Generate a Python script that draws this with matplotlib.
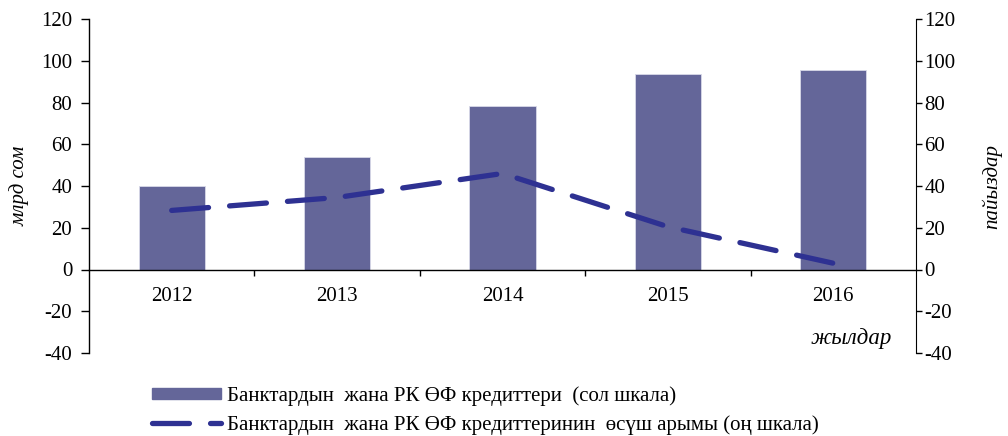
import matplotlib
matplotlib.use("Agg")
import matplotlib.pyplot as plt
from matplotlib.patches import Patch
from matplotlib.lines import Line2D

years = ["2012", "2013", "2014", "2015", "2016"]
credits = [40.2, 53.8, 78.4, 93.8, 95.8]
growth = [28.3, 34.5, 46.0, 20.5, 3.0]
yticks = [-40, -20, 0, 20, 40, 60, 80, 100, 120]

plt.rcParams['font.family'] = ['Liberation Serif', 'DejaVu Serif']
FS = 15
bar_color = '#646699'
line_color = '#2e3192'

fig = plt.figure(figsize=(10.08, 4.36), dpi=100)
ax = fig.add_axes([89/1008, 1-353/436, (916-89)/1008, (353-19)/436])
x = list(range(len(years)))
ax.bar(x, credits, width=0.4, color=bar_color, edgecolor='#d8d9e8', linewidth=0.6, zorder=2)
ax.set_xlim(-0.5, 4.5)
ax.set_ylim(-40, 120)
ax.set_yticks(yticks)
ax.set_yticklabels([str(v) for v in yticks], fontsize=FS)
ax.spines['top'].set_visible(False)
ax.spines['right'].set_visible(False)
ax.spines['bottom'].set_position(('data', 0))
ax.spines['left'].set_linewidth(1.0)
ax.spines['bottom'].set_linewidth(1.0)
ax.set_xticks([0.5, 1.5, 2.5, 3.5])
ax.set_xticklabels([])
ax.tick_params(axis='x', direction='out', length=4, width=1)
ax.tick_params(axis='y', direction='out', length=6, width=1, pad=6)
for i, y in enumerate(years):
    ax.text(i, -8.5, y, ha='center', va='top', fontsize=FS)
ax.text(4.355, -33, 'жылдар', ha='right', va='center', fontsize=16.5, style='italic')
ax.set_ylabel('млрд сом', fontsize=FS, style='italic', labelpad=8)

ax2 = ax.twinx()
ax2.set_ylim(-40, 120)
ax2.set_yticks(yticks)
ax2.set_yticklabels([str(v) for v in yticks], fontsize=FS)
ax2.spines['top'].set_visible(False)
ax2.spines['left'].set_visible(False)
ax2.spines['bottom'].set_visible(False)
ax2.tick_params(axis='y', direction='out', length=4, width=1, pad=2)
ax2.plot(x, growth, color=line_color, linewidth=3.8, dashes=(7, 4), dash_capstyle='round', zorder=3)
ax2.set_ylabel('пайыздар', fontsize=FS, style='italic', rotation=90, labelpad=19)

handles = [Patch(facecolor=bar_color, edgecolor=bar_color),
           Line2D([0], [0], color=line_color, linewidth=3.8, dashes=(7, 4), dash_capstyle='round')]
labels = ['Банктардын  жана РК ӨФ кредиттери  (сол шкала)',
          'Банктардын  жана РК ӨФ кредиттеринин  өсүш арымы (оң шкала)']
fig.legend(handles, labels, loc='upper left', bbox_to_anchor=(152/1008, 1-386/436),
           frameon=False, fontsize=15, handlelength=3.3, handleheight=0.45,
           handletextpad=0.3, labelspacing=0.45, borderpad=0, borderaxespad=0)

fig.savefig('out.png', dpi=100)
